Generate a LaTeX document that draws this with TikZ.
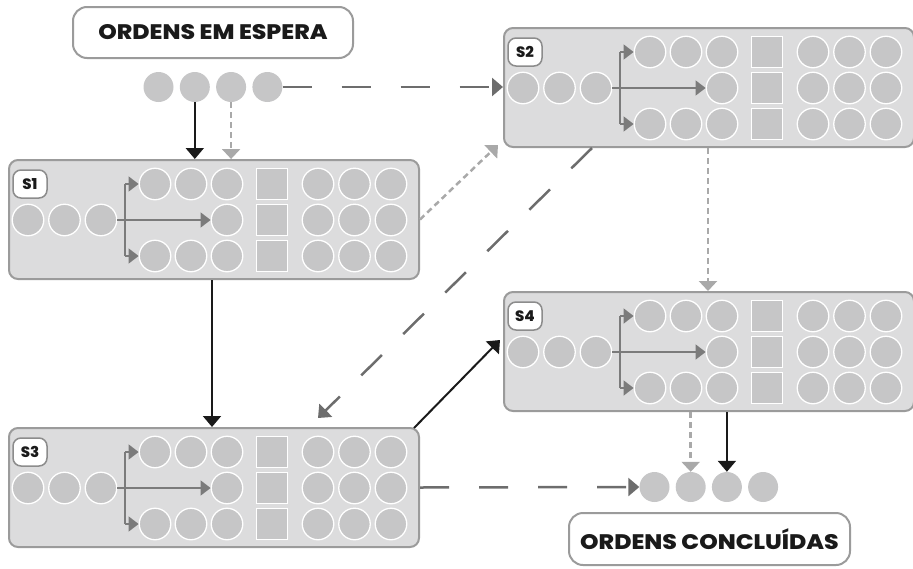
\documentclass[tikz,border=0pt]{standalone}
\usepackage{fontspec}
\setmainfont{Poppins}
\newfontfamily\heavy{Poppins ExtraBold}
\usetikzlibrary{arrows.meta,calc}
\definecolor{boxfill}{HTML}{DCDCDD}
\definecolor{boxline}{HTML}{9B9B9B}
\definecolor{tagline}{HTML}{8C8C8C}
\definecolor{dotfill}{HTML}{C6C6C7}
\definecolor{darkdash}{HTML}{6D6D6D}
\definecolor{lightdash}{HTML}{A9A9A9}
\definecolor{inarrow}{HTML}{7B7B7B}
\definecolor{ink}{HTML}{1A1A1A}
\newcommand\widetext[1]{\scalebox{1.12}[1]{#1}}
\tikzset{
  station/.style={draw=boxline, fill=boxfill, line width=2, rounded corners=9, minimum width=410, minimum height=119, inner sep=0, anchor=north west},
  dot/.style={circle, fill=dotfill, draw=white, line width=1.3, minimum size=31.5, inner sep=0},
  sq/.style={rectangle, fill=dotfill, draw=white, line width=1.3, minimum size=31.5, inner sep=0},
  wdot/.style={circle, fill=dotfill, minimum size=30, inner sep=0},
  tag/.style={draw=tagline, fill=white, rounded corners=8, line width=1.5, minimum width=34, minimum height=28, inner sep=0, text=ink, font=\heavy\fontsize{15}{15}\selectfont},
  title/.style={draw=boxline, fill=white, line width=2, rounded corners=14, minimum width=280, minimum height=51, text=ink, font=\heavy\fontsize{21}{21}\selectfont},
  inarr/.style={draw=inarrow, line width=1.5, -{Triangle[width=15pt,length=10pt]}},
  blackarr/.style={draw=ink, line width=2, -{Triangle[width=18pt,length=11pt]}},
  darkarr/.style={draw=darkdash, line width=2.5, dash pattern=on 29pt off 30pt, -{Triangle[width=18pt,length=11pt]}},
  lightarr/.style={draw=lightdash, line width=2.5, dash pattern=on 6pt off 4pt, -{Triangle[width=18pt,length=10pt]}},
}
\newcommand\station[4]{%
  \node[station] (#1) at (#2,#3) {};
  \begin{scope}[shift={(#2,#3)}]
    \node[tag] (#1t) at (22,25) {#4};
    \foreach \i/\xx in {1/20,2/56.5,3/93} \node[dot] (#1l\i) at (\xx,61) {};
    \foreach \i/\xx in {1/147,2/183,3/219} {\node[dot] (#1a\i) at (\xx,25) {}; \node[dot] (#1c\i) at (\xx,97) {};}
    \node[dot] (#1b3) at (219,61) {};
    \foreach \rw/\yy in {a/25,b/61,c/97} {\node[sq] (#1q\rw) at (264,\yy) {};
      \foreach \i/\xx in {1/310,2/346.5,3/383} \node[dot] (#1r\rw\i) at (\xx,\yy) {};}
    \coordinate (#1j) at (117,61);
    \draw[inarr] (#1l3.east) -- (#1b3.west);
    \draw[draw=inarrow, line width=1.5] (#1j |- #1a1) -- (#1j |- #1c1);
    \draw[inarr] (#1j |- #1a1) -- (#1a1.west);
    \draw[inarr] (#1j |- #1c1) -- (#1c1.west);
  \end{scope}}
\begin{document}
\begin{tikzpicture}[x=1pt,y=-1pt]
\useasboundingbox (0,0) rectangle (913,568);
\node[title] (top) at (213,32.5) {\widetext{ORDENS EM ESPERA}};
\node[title, minimum width=281, minimum height=52] (bot) at (709.5,539) {\widetext{ORDENS CONCLUÍDAS}};
\foreach \i in {1,2,3,4} \node[wdot] (w\i) at ({158.5+36.3*(\i-1)},87) {};
\foreach \i in {1,2,3,4} \node[wdot] (c\i) at ({654.5+36.2*(\i-1)},487) {};
\station{s1}{8}{159}{S1}
\station{s2}{503}{27}{S2}
\station{s3}{8}{427}{S3}
\station{s4}{503}{291}{S4}
\draw[blackarr] (w2.south) -- (w2.south |- s1.north);
\draw[lightarr] (w3.south) -- (w3.south |- s1.north);
\draw[darkarr] (w4.east) -- (w4.east -| s2.west);
\draw[lightarr] (s1.east) -- ($(s2.south west)+(-5,-3)$);
\draw[darkarr] ($(s2.south west)+(89,0)$) -- ($(s3.north west)+(310,-9)$);
\draw[blackarr] ($(s1.south west)+(204,0)$) -- ($(s3.north west)+(204,0)$);
\draw[lightarr] ($(s2.south west)+(205,0)$) -- ($(s4.north west)+(205,0)$);
\draw[blackarr] ($(s3.north east)+(-6,1)$) -- ($(s4.north west)+(-3,49)$);
\draw[darkarr] (s3.east) -- (c1.west);
\draw[lightarr] (c2.north |- s4.south) -- (c2.north);
\draw[blackarr] (c3.north |- s4.south) -- (c3.north);
\end{tikzpicture}
\end{document}
